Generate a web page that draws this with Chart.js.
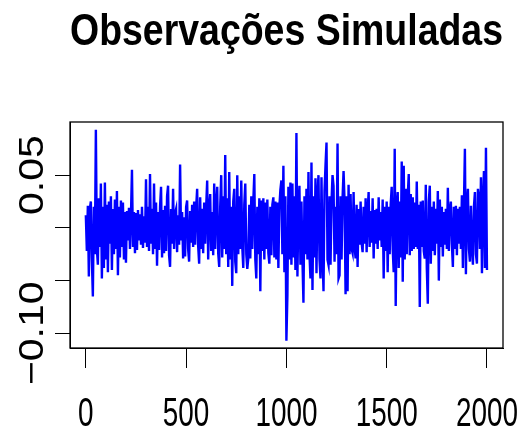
<!DOCTYPE html>
<html>
<head>
<meta charset="utf-8">
<script src="https://cdn.jsdelivr.net/npm/chart.js@4/dist/chart.umd.min.js"></script>
<style>
  html, body { margin: 0; padding: 0; background: #fff; }
  #wrap { width: 527px; height: 429px; }
</style>
</head>
<body>
<div id="wrap"><canvas id="chart"></canvas></div>
<script>
const obsValues = [
  0.012, -0.022, 0.021, -0.046, 0.018, 0.025, -0.03, -0.065, 0.02, -0.025,
  0.093, -0.02, -0.035, 0.028, -0.018, 0.042, -0.048, 0.02, -0.038, 0.043,
  -0.03, 0.022, -0.042, 0.025, -0.015, 0.03, -0.04, 0.018, -0.025, 0.027,
  -0.02, 0.035, -0.045, 0.02, -0.028, 0.026, -0.018, 0.024, -0.03, 0.015,
  -0.033, 0.016, -0.012, 0.019, -0.02, 0.012, 0.055, -0.018, 0.015, -0.024,
  0.014, -0.021, 0.017, -0.012, 0.013, -0.016, 0.02, -0.019, 0.011, -0.014,
  0.046, -0.018, 0.02, -0.022, 0.051, -0.015, 0.018, -0.025, 0.042, -0.02,
  0.024, -0.036, 0.015, -0.021, 0.02, 0.039, -0.028, 0.017, -0.024, 0.021,
  -0.022, 0.03, 0.04, -0.026, -0.037, 0.018, -0.015, 0.037, -0.02, 0.014,
  0.018, -0.023, 0.012, -0.016, 0.06, -0.012, 0.015, -0.029, 0.01, -0.027,
  0.02, 0.026, -0.02, -0.032, 0.016, -0.014, 0.022, -0.018, 0.025, -0.016,
  0.019, 0.037, -0.017, -0.034, 0.029, -0.02, 0.018, -0.024, 0.024, -0.015,
  0.02, 0.045, -0.03, 0.018, 0.032, -0.022, 0.015, -0.026, 0.042, -0.02,
  0.022, 0.039, -0.024, -0.037, 0.02, 0.05, -0.028, 0.03, -0.02, 0.069,
  -0.025, 0.028, -0.037, 0.053, -0.03, 0.02, -0.055, 0.025, 0.037, -0.032,
  -0.043, 0.05, -0.025, 0.03, -0.02, 0.045, -0.018, -0.038, 0.022, 0.042,
  -0.025, -0.039, -0.029, 0.022, -0.029, 0.03, -0.02, 0.025, 0.051, -0.03,
  -0.048, 0.02, -0.025, 0.028, -0.06, 0.026, -0.022, 0.028, -0.03, 0.024,
  -0.02, 0.027, -0.024, -0.034, 0.02, -0.026, 0.022, 0.029, -0.028, 0.025,
  -0.03, 0.024, -0.038, 0.02, 0.036, 0.045, -0.025, 0.059, -0.042, 0.03,
  -0.107, -0.064, 0.039, -0.03, 0.043, -0.035, 0.042, -0.028, 0.03, -0.04,
  0.09, -0.046, 0.02, 0.04, -0.035, 0.025, -0.03, -0.071, 0.03, -0.025,
  0.037, -0.03, 0.053, -0.025, -0.048, 0.062, -0.059, 0.03, -0.028, 0.047,
  -0.043, 0.03, 0.05, -0.03, -0.048, 0.048, -0.025, -0.06, 0.035, 0.059,
  0.081, -0.03, -0.035, 0.03, -0.035, 0.025, 0.05, 0.04, -0.032, 0.02,
  -0.025, 0.08, -0.048, -0.045, 0.03, -0.03, 0.028, 0.054, 0.025, -0.063,
  0.03, -0.06, 0.041, -0.025, 0.032, -0.02, -0.024, 0.034, -0.018, -0.029,
  0.022, -0.037, 0.018, -0.016, 0.025, -0.014, -0.023, 0.02, -0.015, 0.028,
  -0.023, 0.015, 0.034, -0.018, 0.016, -0.014, 0.028, -0.029, 0.017, -0.015,
  0.018, -0.02, 0.029, -0.012, 0.015, -0.018, 0.027, -0.048, 0.02, -0.022,
  0.025, -0.042, 0.02, -0.025, 0.022, 0.039, -0.02, -0.042, 0.075, -0.074,
  0.02, 0.034, -0.038, 0.025, -0.028, 0.063, -0.051, 0.059, -0.03, 0.037,
  -0.025, 0.03, 0.051, -0.026, 0.032, -0.022, 0.029, -0.02, 0.024, -0.018,
  0.044, -0.02, 0.022, -0.075, 0.025, -0.018, 0.026, -0.022, -0.029, 0.041,
  -0.038, -0.072, 0.025, 0.04, -0.034, 0.02, -0.022, 0.025, -0.026, 0.018,
  -0.015, 0.035, -0.05, 0.027, -0.018, 0.02, -0.027, 0.015, -0.016, 0.018,
  -0.02, 0.038, -0.022, 0.016, 0.025, -0.015, -0.037, 0.02, -0.02, 0.021,
  -0.026, 0.018, -0.015, 0.02, -0.02, 0.031, -0.038, 0.02, 0.075, -0.044,
  0.022, 0.037, -0.02, -0.032, 0.021, -0.018, -0.035, 0.02, 0.034, -0.025,
  -0.034, 0.037, 0.028, -0.02, 0.048, -0.043, 0.025, 0.054, -0.038, 0.076,
  -0.04
];
const obsStep = 5;
const obsTime = obsValues.map((v, i) => i * obsStep);

const xTickValues = [0, 500, 1000, 1500, 2000];
const xTickLabels = ['0', '500', '1000', '1500', '2000'];
const yTickValues = [-0.10, -0.05, 0, 0.05];
const yTickLabels = ['\u22120.10', '', '', '0.05'];   // R hides the two that would overlap

const titleText = 'Observações Simuladas';

// axis range like R (data range + 4%)
const xMin = -78.96, xMax = 2079.96;
const yMin = -0.1139, yMax = 0.1004;

// the original picture is squeezed sideways: x labels get narrow, rotated y labels get thin
const squeezeX = 0.68;
const squeezeY = 0.85;
const tickFont = '41px "Liberation Sans", Arial, sans-serif';

// box round the plot + tick labels drawn from the scales
const rPlotBox = {
  id: 'rPlotBox',
  afterDraw(chart) {
    const { ctx, chartArea: a, scales } = chart;
    ctx.save();
    ctx.strokeStyle = '#000';
    ctx.lineWidth = 1.3;
    ctx.strokeRect(a.left, a.top, a.right - a.left, a.bottom - a.top);

    ctx.fillStyle = '#000';
    ctx.font = tickFont;
    ctx.textAlign = 'center';
    ctx.textBaseline = 'alphabetic';

    xTickValues.forEach((v, i) => {
      const px = scales.x.getPixelForValue(v);
      ctx.save();
      ctx.translate(px, 426);
      ctx.scale(squeezeX, 1);
      ctx.fillText(xTickLabels[i], 0, 0);
      ctx.restore();
    });

    yTickValues.forEach((v, i) => {
      if (!yTickLabels[i]) return;
      const py = scales.y.getPixelForValue(v);
      ctx.save();
      ctx.translate(43, py);
      ctx.rotate(-Math.PI / 2);
      ctx.scale(1, squeezeY);
      ctx.fillText(yTickLabels[i], 0, 0);
      ctx.restore();
    });
    ctx.restore();
  }
};

new Chart(document.getElementById('chart'), {
  type: 'line',
  data: {
    datasets: [{
      data: obsValues.map((v, i) => ({ x: obsTime[i], y: v })),
      borderColor: '#0000ff',
      borderWidth: 2.4,
      pointRadius: 0,
      tension: 0,
      fill: false
    }]
  },
  options: {
    responsive: true,
    maintainAspectRatio: false,
    animation: false,
    layout: { padding: { left: 70, right: 24, top: 0, bottom: 0 } },
    plugins: {
      legend: { display: false },
      tooltip: { enabled: false },
      title: {
        display: true,
        text: titleText,
        color: '#000',
        font: { family: '"Liberation Sans Narrow", "Liberation Sans", Arial', size: 45, weight: 'bold', lineHeight: 1 },
        padding: { top: 10, bottom: 67 }
      }
    },
    scales: {
      x: {
        type: 'linear',
        min: xMin, max: xMax,
        afterBuildTicks: (s) => { s.ticks = xTickValues.map(v => ({ value: v })); },
        afterFit: (s) => { s.height = 81; },
        ticks: { display: false },
        grid: { drawOnChartArea: false, drawTicks: true, tickLength: 20, color: '#000', lineWidth: 1 },
        border: { display: true, color: '#000', width: 1 }
      },
      y: {
        type: 'linear',
        min: yMin, max: yMax,
        afterBuildTicks: (s) => { s.ticks = yTickValues.map(v => ({ value: v })); },
        afterFit: (s) => { s.width = 0; },
        ticks: { display: false },
        grid: { drawOnChartArea: false, drawTicks: true, tickLength: 15, color: '#000', lineWidth: 1 },
        border: { display: true, color: '#000', width: 1 }
      }
    }
  },
  plugins: [rPlotBox]
});
</script>
</body>
</html>
